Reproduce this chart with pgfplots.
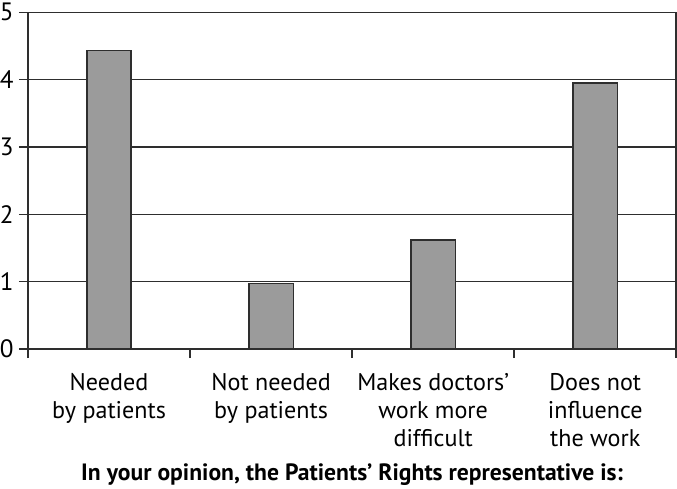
\documentclass[border=0pt]{standalone}
\usepackage{fontspec}
\setmainfont{PT Sans}
\usepackage{pgfplots}
\pgfplotsset{compat=1.18}
\definecolor{barfill}{HTML}{9B9B9B}
\definecolor{linec}{HTML}{2E2E2E}
\begin{document}
\begin{tikzpicture}
\begin{axis}[
  scale only axis, width=643bp, height=334bp,
  xmin=-0.5, xmax=3.5, ymin=0, ymax=5,
  ytick={0,1,2,3,4,5},
  xtick={0,1,2,3},
  xticklabels={{Needed\\by patients},{Not needed\\by patients},{Makes doctors’\\work more\\difficult},{Does not\\influence\\the work}},
  minor xtick={-0.5,0.5,1.5,2.5,3.5},
  xtick pos=bottom, ytick pos=left, tick align=outside,
  major tick length=9bp, minor tick length=9bp,
  major x tick style={draw=none},
  minor x tick style={draw=linec, line width=1.5bp},
  major y tick style={draw=linec, line width=1.5bp},
  ymajorgrids, grid style={draw=linec, line width=1.5bp},
  axis line style={draw=linec, line width=1.5bp},
  /pgf/number format/assume math mode=true,
  yticklabel style={font=\fontsize{25}{28}\selectfont, inner xsep=0bp, xshift=-5bp},
  xticklabel style={font=\fontsize{24}{27.5}\selectfont, align=center, yshift=-12bp},
  xlabel={\bfseries In your opinion, the Patients’ Rights representative is:},
  xlabel style={font=\fontsize{23.5}{26}\selectfont, yshift=-10bp},
  ybar, bar width=44bp,
]
\addplot[fill=barfill, draw=linec, line width=1.5bp] coordinates {(0,4.43) (1,0.97) (2,1.62) (3,3.95)};
\end{axis}
\end{tikzpicture}
\end{document}
